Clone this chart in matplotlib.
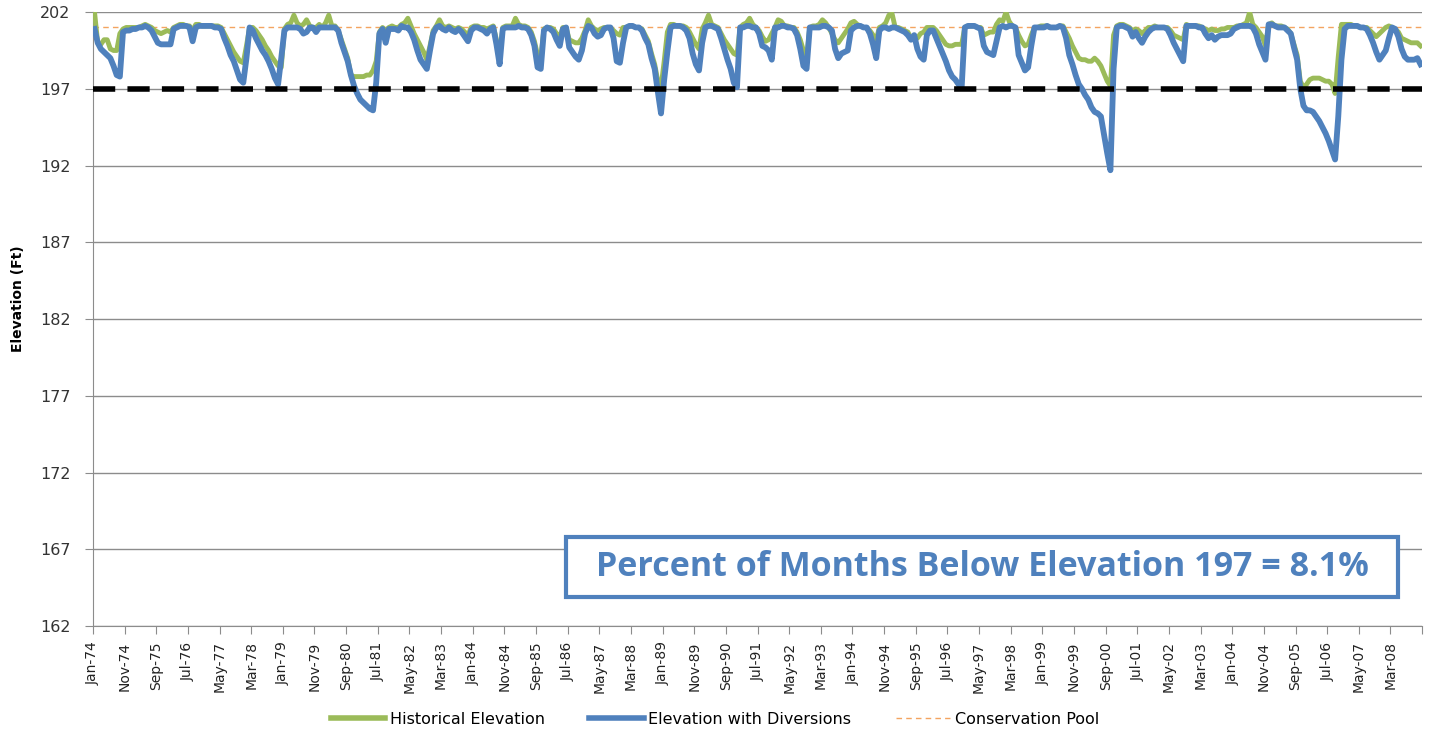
# Lake elevation with and without diversions, monthly Jan-74 .. Dec-08
import numpy as np
import pandas as pd
import matplotlib
matplotlib.use("Agg")
import matplotlib.pyplot as plt
from matplotlib.lines import Line2D
from matplotlib.patches import Rectangle

plt.rcParams['font.family'] = ['DejaVu Sans']

start_month = "1974-01"
n_months = 420

# Historical elevation (ft), one row per year
historical = [
    202.0, 200.0, 199.9, 200.2, 200.2, 199.6, 199.5, 199.5, 200.6, 200.9, 201.0, 201.0,  # 1974
    201.0, 201.0, 201.0, 201.1, 201.2, 201.1, 201.0, 200.8, 200.7, 200.6, 200.7, 200.8,  # 1975
    200.7, 201.0, 201.1, 201.2, 201.2, 201.1, 201.1, 200.8, 201.2, 201.2, 201.1, 201.1,  # 1976
    201.1, 201.1, 201.1, 201.1, 201.0, 200.6, 200.2, 199.8, 199.4, 199.1, 198.8, 198.7,  # 1977
    199.8, 201.0, 201.0, 200.8, 200.5, 200.2, 199.8, 199.5, 199.1, 198.8, 198.5, 198.4,  # 1978
    200.9, 201.2, 201.3, 201.8, 201.3, 201.1, 201.2, 201.5, 201.1, 201.0, 201.0, 201.2,  # 1979
    201.0, 201.3, 201.8, 201.1, 201.1, 200.8, 200.2, 199.6, 199.0, 197.9, 197.8, 197.8,  # 1980
    197.8, 197.8, 197.9, 197.9, 198.2, 198.8, 200.7, 201.0, 200.8, 201.0, 201.1, 201.0,  # 1981
    201.0, 201.2, 201.3, 201.6, 201.1, 200.6, 200.2, 199.8, 199.4, 198.9, 199.8, 200.8,  # 1982
    201.1, 201.5, 201.1, 201.0, 201.1, 201.0, 200.9, 201.0, 200.9, 200.7, 200.5, 201.0,  # 1983
    201.1, 201.1, 201.0, 201.0, 200.9, 201.0, 201.1, 200.2, 199.1, 201.0, 201.1, 201.1,  # 1984
    201.1, 201.6, 201.2, 201.1, 201.1, 201.0, 200.7, 200.1, 199.2, 199.0, 200.9, 201.0,  # 1985
    201.0, 200.9, 200.6, 200.4, 201.0, 201.0, 200.2, 200.1, 200.0, 200.0, 200.3, 200.8,  # 1986
    201.5, 201.1, 200.9, 200.8, 200.9, 201.0, 201.0, 201.0, 200.8, 200.6, 200.5, 201.0,  # 1987
    201.0, 201.1, 201.1, 201.0, 201.0, 200.9, 200.5, 200.1, 199.3, 198.6, 197.5, 197.1,  # 1988
    198.8, 200.7, 201.2, 201.2, 201.1, 201.1, 201.1, 201.0, 200.7, 200.3, 199.9, 199.6,  # 1989
    200.9, 201.3, 201.8, 201.2, 201.1, 201.0, 200.6, 200.2, 199.9, 199.6, 199.3, 199.2,  # 1990
    201.0, 201.2, 201.3, 201.6, 201.2, 201.0, 200.8, 200.4, 200.1, 200.2, 200.6, 201.0,  # 1991
    201.5, 201.4, 201.1, 201.1, 201.0, 201.0, 200.7, 200.2, 199.5, 199.0, 201.0, 201.1,  # 1992
    201.1, 201.2, 201.5, 201.3, 201.0, 200.6, 200.2, 200.0, 200.3, 200.6, 200.9, 201.3,  # 1993
    201.4, 201.2, 201.1, 201.0, 201.0, 200.8, 200.5, 200.2, 201.0, 201.1, 201.3, 201.8,  # 1994
    201.9, 201.0, 201.0, 200.9, 200.8, 200.7, 200.3, 200.4, 200.3, 200.6, 200.7, 201.0,  # 1995
    201.0, 201.0, 200.8, 200.5, 200.2, 199.9, 199.8, 199.8, 199.9, 199.9, 199.9, 201.0,  # 1996
    201.1, 201.1, 201.1, 201.0, 201.0, 200.5, 200.6, 200.7, 200.7, 201.2, 201.5, 201.4,  # 1997
    202.0, 201.4, 201.1, 201.0, 200.5, 200.1, 199.8, 199.9, 200.5, 201.0, 201.0, 201.1,  # 1998
    201.1, 201.1, 201.0, 201.0, 201.0, 201.1, 201.1, 200.7, 200.3, 199.8, 199.4, 199.0,  # 1999
    198.9, 198.9, 198.8, 198.8, 199.0, 198.8, 198.5, 198.0, 197.5, 197.2, 200.5, 201.1,  # 2000
    201.2, 201.2, 201.1, 201.0, 200.8, 200.9, 200.8, 200.6, 200.8, 201.0, 201.0, 201.1,  # 2001
    201.0, 201.0, 201.0, 201.0, 200.8, 200.5, 200.4, 200.3, 200.2, 201.2, 201.1, 201.1,  # 2002
    201.1, 201.1, 201.0, 200.9, 200.8, 200.9, 200.8, 200.8, 200.9, 200.9, 201.0, 201.0,  # 2003
    201.0, 201.1, 201.1, 201.2, 201.3, 202.0, 201.2, 201.0, 200.7, 200.4, 199.8, 201.2,  # 2004
    201.3, 201.1, 201.1, 201.1, 201.0, 200.9, 200.6, 199.9, 199.2, 197.5, 197.1, 197.3,  # 2005
    197.6, 197.7, 197.7, 197.7, 197.6, 197.5, 197.5, 197.3, 196.7, 199.1, 201.2, 201.2,  # 2006
    201.2, 201.2, 201.1, 201.1, 201.0, 201.0, 201.0, 200.8, 200.6, 200.4, 200.6, 200.8,  # 2007
    201.0, 201.1, 201.0, 200.9, 200.7, 200.3, 200.2, 200.1, 200.0, 200.0, 200.0, 199.8,  # 2008
]

# Elevation with diversions (ft)
diversions = [
    200.9, 200.0, 199.6, 199.4, 199.2, 199.0, 198.5, 197.9, 197.8, 200.7, 200.8, 200.8,  # 1974
    200.9, 200.9, 201.0, 201.0, 201.1, 201.0, 200.8, 200.4, 200.0, 199.9, 199.9, 199.9,  # 1975
    199.9, 200.9, 201.0, 201.1, 201.1, 201.1, 201.0, 200.1, 201.0, 201.1, 201.1, 201.1,  # 1976
    201.1, 201.1, 201.0, 201.0, 200.9, 200.3, 199.8, 199.2, 198.8, 198.2, 197.6, 197.4,  # 1977
    199.0, 201.0, 200.8, 200.3, 199.9, 199.5, 199.2, 198.8, 198.3, 197.7, 197.3, 199.0,  # 1978
    200.8, 201.0, 201.0, 201.0, 201.0, 200.9, 200.6, 200.7, 201.0, 201.0, 200.7, 201.0,  # 1979
    201.0, 201.0, 201.0, 201.0, 201.0, 200.8, 200.0, 199.4, 198.8, 197.9, 197.2, 196.7,  # 1980
    196.3, 196.1, 195.9, 195.7, 195.6, 197.4, 200.6, 200.9, 200.0, 200.9, 200.9, 200.9,  # 1981
    200.8, 201.1, 201.0, 201.0, 200.7, 200.2, 199.5, 198.9, 198.6, 198.3, 199.5, 200.6,  # 1982
    201.0, 201.1, 200.9, 200.8, 201.0, 200.8, 200.7, 200.9, 200.7, 200.4, 200.1, 200.8,  # 1983
    201.0, 201.0, 200.9, 200.8, 200.6, 200.9, 201.0, 199.9, 198.6, 200.9, 201.0, 201.0,  # 1984
    201.0, 201.0, 201.1, 201.0, 201.0, 200.9, 200.5, 199.8, 198.4, 198.3, 200.8, 201.0,  # 1985
    200.9, 200.7, 200.2, 199.8, 200.9, 201.0, 199.7, 199.4, 199.1, 198.9, 199.5, 200.6,  # 1986
    201.1, 201.0, 200.6, 200.4, 200.5, 200.9, 201.0, 201.0, 200.3, 198.8, 198.7, 200.0,  # 1987
    201.0, 201.1, 201.1, 201.0, 201.0, 200.8, 200.3, 199.9, 199.0, 198.3, 196.8, 195.4,  # 1988
    197.6, 199.4, 201.0, 201.1, 201.1, 201.1, 201.0, 200.8, 200.3, 199.3, 198.6, 198.2,  # 1989
    200.0, 201.0, 201.1, 201.1, 201.0, 200.9, 200.3, 199.6, 198.9, 198.3, 197.4, 197.1,  # 1990
    201.0, 201.0, 201.1, 201.1, 201.0, 201.0, 200.6, 199.8, 199.7, 199.5, 198.9, 201.0,  # 1991
    201.0, 201.1, 201.1, 201.0, 201.0, 200.9, 200.5, 199.6, 198.5, 198.3, 201.0, 201.0,  # 1992
    201.0, 201.0, 201.1, 201.1, 201.0, 200.8, 199.6, 199.0, 199.3, 199.4, 199.5, 200.8,  # 1993
    201.0, 201.1, 201.1, 201.0, 201.0, 200.6, 199.9, 199.0, 200.8, 201.0, 201.0, 200.9,  # 1994
    201.0, 201.0, 200.9, 200.8, 200.7, 200.5, 200.2, 200.5, 199.6, 199.1, 198.9, 200.5,  # 1995
    200.8, 200.8, 200.3, 199.8, 199.3, 198.8, 198.2, 197.8, 197.6, 197.3, 197.1, 201.0,  # 1996
    201.1, 201.1, 201.1, 201.0, 200.9, 199.8, 199.4, 199.3, 199.2, 200.1, 201.0, 201.1,  # 1997
    201.0, 201.1, 201.1, 201.0, 199.2, 198.7, 198.2, 198.4, 199.8, 201.0, 201.0, 201.0,  # 1998
    201.0, 201.1, 201.0, 201.0, 201.0, 201.1, 201.0, 200.3, 199.2, 198.6, 197.9, 197.3,  # 1999
    197.0, 196.6, 196.3, 195.8, 195.5, 195.4, 195.2, 194.0, 192.8, 191.7, 198.3, 201.0,  # 2000
    201.1, 201.1, 201.0, 200.9, 200.4, 200.7, 200.3, 200.0, 200.4, 200.7, 200.9, 201.0,  # 2001
    201.0, 201.0, 201.0, 200.9, 200.5, 200.0, 199.6, 199.2, 198.8, 201.1, 201.1, 201.1,  # 2002
    201.1, 201.0, 201.0, 200.6, 200.3, 200.5, 200.2, 200.4, 200.5, 200.5, 200.5, 200.6,  # 2003
    200.9, 201.0, 201.1, 201.1, 201.1, 201.1, 201.0, 200.6, 199.9, 199.4, 198.9, 201.2,  # 2004
    201.2, 201.1, 201.0, 201.0, 201.0, 200.8, 200.6, 199.7, 198.9, 197.0, 195.9, 195.6,  # 2005
    195.6, 195.5, 195.2, 194.9, 194.5, 194.1, 193.6, 193.0, 192.4, 195.2, 198.9, 200.9,  # 2006
    201.1, 201.1, 201.1, 201.1, 201.0, 201.0, 200.9, 200.5, 200.0, 199.4, 198.9, 199.2,  # 2007
    199.5, 200.3, 201.0, 200.9, 200.4, 199.6, 199.1, 198.9, 198.9, 198.9, 199.0, 198.6,  # 2008
]

conservation_pool = 201.0
threshold = 197.0
y_ticks = [162, 167, 172, 177, 182, 187, 192, 197, 202]
note = "Percent of Months Below Elevation 197 = 8.1%"

green = "#9BBB59"
blue = "#4F81BD"
orange = "#F4A460"

months = pd.date_range(start_month, periods=n_months, freq="MS")
x = np.arange(n_months) + 0.5

fig = plt.figure(figsize=(14.3, 7.34), dpi=100)
ax = fig.add_axes([0.065, 0.147, 0.9295, 0.8365])

ax.plot(x, historical, color=green, lw=3.5, solid_joinstyle="round", zorder=3)
ax.plot(x, diversions, color=blue, lw=4.2, solid_joinstyle="round", zorder=4)
ax.axhline(conservation_pool, color=orange, lw=1, ls=(0, (4, 3)), zorder=2)
ax.axhline(threshold, color="black", lw=4, ls=(0, (4, 2.2)), zorder=5)

ax.set_ylim(162, 202)
ax.set_xlim(0, n_months)
ax.set_yticks(y_ticks)
ax.yaxis.grid(True, color="#8c8c8c", lw=1)
ax.set_axisbelow(True)

tick_pos = np.arange(0, n_months + 1, 10)
ax.set_xticks(tick_pos)
labels = [months[i].strftime("%b-%y") if i < n_months else "" for i in tick_pos]
ax.set_xticklabels(labels, rotation=90, fontsize=10, color="#222222")
ax.tick_params(axis="x", length=6, color="#8c8c8c", pad=5)
ax.tick_params(axis="y", length=6, color="#8c8c8c", labelsize=11.5, labelcolor="#333333", pad=10)

for s in ["top", "right"]:
    ax.spines[s].set_visible(False)
ax.spines["left"].set_color("#8c8c8c")
ax.spines["bottom"].set_color("#8c8c8c")

ax.set_ylabel("Elevation (Ft)", fontsize=10, fontweight="bold",
              family=["Liberation Sans Narrow", "DejaVu Sans"])
ax.yaxis.set_label_coords(-0.051, 0.534)

# annotation box
ax.add_patch(Rectangle((0.356, 0.047), 0.626, 0.098, transform=ax.transAxes,
                       fc="white", ec=blue, lw=3, zorder=6))
ax.text(0.669, 0.096, note, transform=ax.transAxes, ha="center", va="center",
        fontsize=24.5, fontweight="bold", color=blue, family=["Open Sans", "DejaVu Sans"],
        zorder=7)

handles = [
    Line2D([], [], color=green, lw=4),
    Line2D([], [], color=blue, lw=4),
    Line2D([], [], color=orange, lw=1, ls=(0, (4, 3))),
]
fig.legend(handles, ["Historical Elevation", "Elevation with Diversions", "Conservation Pool"],
           loc="center", bbox_to_anchor=(0.5, 0.02), ncol=3, frameon=False,
           handlelength=3.4, handletextpad=0.3, columnspacing=2.8, fontsize=11.5)

fig.savefig("out.png", dpi=100)
